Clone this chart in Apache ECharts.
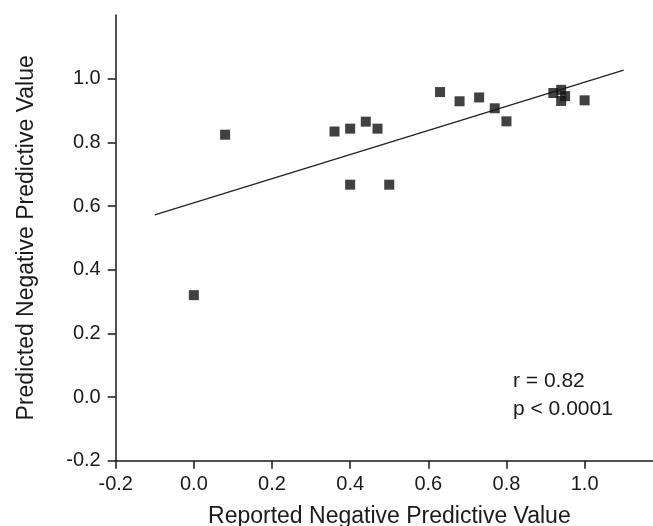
<!DOCTYPE html>
<html>
<head>
<meta charset="utf-8">
<script src="https://cdn.jsdelivr.net/npm/echarts@6/dist/echarts.min.js"></script>
<style>
  html, body { margin: 0; padding: 0; background: #fff; }
  #main { width: 653px; height: 526px; }
</style>
</head>
<body>
<div id="main"></div>
<script>
// reported vs predicted negative predictive value, one entry per study
const reportedNPV = [0.00, 0.08, 0.36, 0.40, 0.40, 0.44, 0.47, 0.50, 0.63, 0.68, 0.73, 0.77, 0.80, 0.92, 0.94, 0.95, 0.94, 1.00];
const predictedNPV = [0.32, 0.824, 0.834, 0.843, 0.667, 0.865, 0.843, 0.667, 0.958, 0.929, 0.941, 0.907, 0.866, 0.955, 0.965, 0.945, 0.930, 0.932];

// regression line end points
const fitX = [-0.1, 1.1];
const fitY = [0.572, 1.027];

const tickValues = [-0.2, 0.0, 0.2, 0.4, 0.6, 0.8, 1.0];
const statsText = ['r = 0.82', 'p < 0.0001'];

const font = 'Liberation Sans, Arial, sans-serif';
const ink = '#1a1a1a';

const points = reportedNPV.map((x, i) => [x, predictedNPV[i]]);
const fitLine = fitX.map((x, i) => [x, fitY[i]]);

const chart = echarts.init(document.getElementById('main'), null, { renderer: 'canvas' });

const axisCommon = {
    type: 'value',
    min: -0.2,
    interval: 0.2,
    nameLocation: 'middle',
    axisLine: { show: true, onZero: false, lineStyle: { color: ink, width: 1.5 } },
    axisTick: { show: true, length: 8, customValues: tickValues, lineStyle: { color: ink, width: 1.5 } },
    axisLabel: {
        customValues: tickValues,
        fontFamily: font, fontSize: 20, color: ink,
        formatter: v => v.toFixed(1)
    },
    splitLine: { show: false }
};

chart.setOption({
    animation: false,
    backgroundColor: '#fff',
    grid: { left: 115.7, top: 15, right: 0, bottom: 65.3, containLabel: false, outerBoundsMode: 'none' },
    xAxis: Object.assign({}, axisCommon, {
        max: 1.175,
        name: 'Reported Negative Predictive Value',
        nameGap: 44,
        nameTextStyle: { fontFamily: font, fontSize: 23, color: ink, padding: [0, 0, 0, 10] },
        axisLabel: Object.assign({}, axisCommon.axisLabel, { margin: 14 })
    }),
    yAxis: Object.assign({}, axisCommon, {
        max: 1.2,
        name: 'Predicted Negative Predictive Value',
        nameGap: 78,
        nameTextStyle: { fontFamily: font, fontSize: 23, color: ink },
        axisLabel: Object.assign({}, axisCommon.axisLabel, { margin: 15 })
    }),
    graphic: [{
        type: 'text',
        left: 513,
        top: 367,
        style: {
            text: statsText.join('\n'),
            font: '21px ' + font,
            lineHeight: 28,
            fill: ink
        }
    }],
    series: [
        {
            type: 'line',
            data: fitLine,
            symbol: 'none',
            lineStyle: { color: '#222', width: 1.3 },
            z: 1
        },
        {
            type: 'scatter',
            data: points,
            symbol: 'rect',
            symbolSize: 10,
            itemStyle: { color: '#111' },
            z: 2
        }
    ]
});
</script>
</body>
</html>
